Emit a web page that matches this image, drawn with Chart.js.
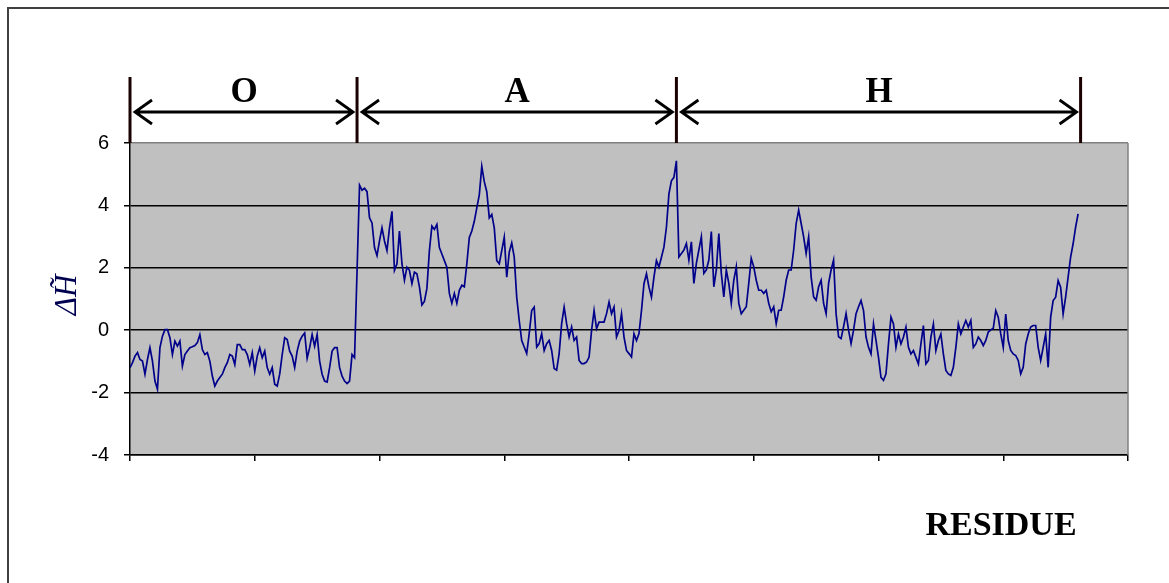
<!DOCTYPE html>
<html>
<head>
<meta charset="utf-8">
<script src="https://cdn.jsdelivr.net/npm/chart.js@4.4.0/dist/chart.umd.min.js"></script>
<style>
  html, body { margin: 0; padding: 0; background: #fff; }
  canvas { display: block; }
</style>
</head>
<body>
<canvas id="hydroChart" width="1169" height="583"></canvas>
<script>
// domain O : residues 0-91
const domainO = [
  -1.20,-1.04,-0.83,-0.72,-0.94,-0.99,-1.41,-0.94,-0.56,-0.99,
  -1.63,-1.89,-0.56,-0.19,0.02,0.02,-0.24,-0.78,-0.35,-0.51,
  -0.35,-1.15,-0.78,-0.67,-0.56,-0.53,-0.49,-0.40,-0.14,-0.62,
  -0.78,-0.72,-0.99,-1.47,-1.79,-1.63,-1.52,-1.41,-1.20,-1.04,
  -0.78,-0.83,-1.10,-0.46,-0.46,-0.62,-0.62,-0.78,-1.10,-0.72,
  -1.31,-0.83,-0.56,-0.88,-0.67,-1.20,-1.41,-1.20,-1.73,-1.79,
  -1.41,-0.78,-0.24,-0.30,-0.67,-0.83,-1.20,-0.67,-0.35,-0.19,
  -0.09,-0.90,-0.56,-0.14,-0.51,-0.14,-0.99,-1.41,-1.63,-1.66,
  -1.20,-0.67,-0.56,-0.56,-1.20,-1.47,-1.63,-1.71,-1.63,-0.78,
  -0.88,1.90
];
// domain A : residues 92-219
const domainA = [
  4.65,4.49,4.55,4.44,3.60,3.44,2.65,2.39,2.86,3.28,
  2.86,2.55,3.28,3.81,1.92,2.13,3.18,2.13,1.60,2.02,
  1.92,1.49,1.86,1.81,1.39,0.81,0.92,1.34,2.55,3.34,
  3.23,3.39,2.65,2.44,2.23,2.02,1.18,0.86,1.18,0.86,
  1.28,1.44,1.39,2.13,2.97,3.18,3.49,3.92,4.34,5.25,
  4.76,4.44,3.60,3.71,3.28,2.23,2.13,
  2.55,2.98,1.70,2.50,2.80,2.34,1.06,0.31,-0.33,-0.54,
  -0.75,-0.11,0.63,0.74,-0.54,-0.43,-0.11,-0.65,-0.43,-0.33,
  -0.65,-1.23,-1.28,-0.75,0.21,0.74,0.21,-0.22,0.10,-0.33,
  -0.22,-0.97,-1.07,-1.07,-1.02,-0.86,-0.01,0.63,0.05,0.26,
  0.26,0.26,0.53,0.90,0.53,0.74,-0.22,-0.01,0.53,-0.22,
  -0.65,-0.75,-0.86,-0.11,-0.33,-0.11,0.63,1.49,1.81,1.38,
  1.06,1.70,2.23,2.02,2.34,2.66,3.30,4.37,4.79,4.90,
  5.43
];
// domain H : residues 220-380
const domainH = [
  2.35,2.46,2.57,2.78,2.25,2.83,1.50,2.14,2.57,2.99,
  1.82,1.93,2.25,3.16,1.39,1.93,3.10,1.82,1.07,1.93,
  1.50,0.86,1.60,2.03,0.86,0.53,0.64,0.75,1.50,2.30,
  2.03,1.60,1.28,1.28,1.18,1.28,0.86,0.59,0.75,0.21,
  0.64,0.64,1.07,1.60,1.93,1.93,2.57,3.42,3.85,3.42,
  2.99,2.46,2.99,1.71,1.07,0.96,1.39,1.60,0.86,0.53,
  1.50,1.93,2.25,0.53,-0.21,-0.27,0.11,0.53,0.00,-0.43,
  0.00,0.53,0.75,
  0.95,0.63,-0.22,-0.55,-0.76,0.20,-0.33,
  -0.87,-1.51,-1.61,-1.40,-0.44,0.42,0.20,-0.55,-0.12,-0.44,
  -0.22,0.10,-0.55,-0.76,-0.65,-0.87,-1.08,-0.44,0.15,-1.08,
  -0.97,-0.22,0.20,-0.65,-0.33,-0.12,-0.76,-1.29,-1.40,-1.45,
  -1.19,-0.55,0.20,-0.12,0.10,0.31,0.10,0.31,-0.55,-0.44,
  -0.22,-0.33,-0.49,-0.33,-0.06,0.01,0.06,0.63,0.42,-0.12,
  -0.55,0.52,-0.33,-0.65,-0.76,-0.81,-0.97,-1.40,-1.19,-0.44,
  -0.12,0.10,0.15,0.15,-0.55,-0.97,-0.55,-0.12,-1.19,0.42,
  0.95,1.06,1.59,1.38,0.52,1.06,1.70,2.34,2.77,3.30,
  3.73
];

const domainLabels = ['O', 'A', 'H'];
const domainBounds = [0, 91, 219, 381];   // residue numbers of the bracket bars
const yTicks = [-4, -2, 0, 2, 4, 6];

const values = domainO.concat(domainA, domainH);
const points = values.map((v, i) => ({ x: i, y: v }));

// gray plot background, brackets, labels
const overlay = {
    id: 'overlay',
    beforeDraw(chart) {
        const { ctx, chartArea: a } = chart;
        ctx.save();
        ctx.fillStyle = '#c0c0c0';
        ctx.fillRect(a.left, a.top, a.right - a.left, a.bottom - a.top);
        ctx.restore();
    },
    afterDraw(chart) {
        const { ctx, chartArea: a } = chart;
        const xs = chart.scales.x;
        ctx.save();

        // right edge of plot
        ctx.strokeStyle = '#808080';
        ctx.lineWidth = 1.5;
        ctx.beginPath();
        ctx.moveTo(a.right, a.top);
        ctx.lineTo(a.right, a.bottom);
        ctx.stroke();

        // outer frame (left + top only)
        ctx.strokeStyle = '#404040';
        ctx.lineWidth = 2;
        ctx.beginPath();
        ctx.moveTo(8, 583);
        ctx.lineTo(8, 8);
        ctx.lineTo(1169, 8);
        ctx.stroke();

        // bracket bars
        const bx = domainBounds.map(b => xs.getPixelForValue(b));
        ctx.strokeStyle = '#1a0000';
        ctx.lineWidth = 3;
        bx.forEach(x => {
            ctx.beginPath();
            ctx.moveTo(x, 77);
            ctx.lineTo(x, a.top);
            ctx.stroke();
        });

        // double arrows + labels
        const ay = 112;
        ctx.strokeStyle = '#000';
        ctx.lineWidth = 2.8;
        ctx.font = 'bold 35px "Liberation Serif"';
        ctx.fillStyle = '#000';
        ctx.textAlign = 'center';
        ctx.textBaseline = 'alphabetic';
        for (let i = 0; i < domainLabels.length; i++) {
            const x0 = bx[i] + 5, x1 = bx[i + 1] - 4;
            ctx.beginPath();
            ctx.moveTo(x0, ay);
            ctx.lineTo(x1, ay);
            ctx.moveTo(x0 + 17, ay - 12);
            ctx.lineTo(x0, ay);
            ctx.lineTo(x0 + 17, ay + 12);
            ctx.moveTo(x1 - 17, ay - 12);
            ctx.lineTo(x1, ay);
            ctx.lineTo(x1 - 17, ay + 12);
            ctx.stroke();
            ctx.fillText(domainLabels[i], (x0 + x1) / 2, 102);
        }

        // x title
        ctx.font = 'bold 34px "Liberation Serif"';
        ctx.fillText('RESIDUE', 1001, 535);

        // y title
        ctx.translate(76, 295);
        ctx.rotate(-Math.PI / 2);
        ctx.fillStyle = '#000050';
        ctx.font = 'italic 31px "Liberation Serif"';
        ctx.textAlign = 'center';
        ctx.fillText('\u0394H\u0303', 0, 0);
        ctx.restore();
    }
};

const ctx = document.getElementById('hydroChart').getContext('2d');
new Chart(ctx, {
    type: 'line',
    data: {
        datasets: [{
            data: points,
            borderColor: '#00008b',
            borderWidth: 1.7,
            pointRadius: 0,
            tension: 0,
            fill: false
        }]
    },
    options: {
        responsive: false,
        animation: false,
        layout: { padding: { left: 90, right: 41, top: 143, bottom: 108 } },
        plugins: { legend: { display: false }, tooltip: { enabled: false } },
        scales: {
            x: {
                type: 'linear',
                min: 0,
                max: 400,
                ticks: { stepSize: 50, callback: () => '' },
                grid: { drawOnChartArea: false, tickLength: 6, color: '#000', lineWidth: 1.5 },
                border: { color: '#000', width: 1.5 },
                afterFit: s => { s.height = 20; }
            },
            y: {
                min: -4,
                max: 6,
                afterBuildTicks: s => { s.ticks = yTicks.map(v => ({ value: v })); },
                ticks: {
                    color: '#000',
                    padding: 15,
                    font: { family: '"Liberation Sans", Arial', size: 20 }
                },
                grid: {
                    color: c => (c.tick && c.tick.value === 6 ? '#808080' : '#000'),
                    tickColor: '#000',
                    tickLength: 6,
                    lineWidth: 1.5
                },
                border: { color: '#000', width: 1.5 },
                afterFit: s => { s.width = 40; }
            }
        }
    },
    plugins: [overlay]
});
</script>
</body>
</html>
